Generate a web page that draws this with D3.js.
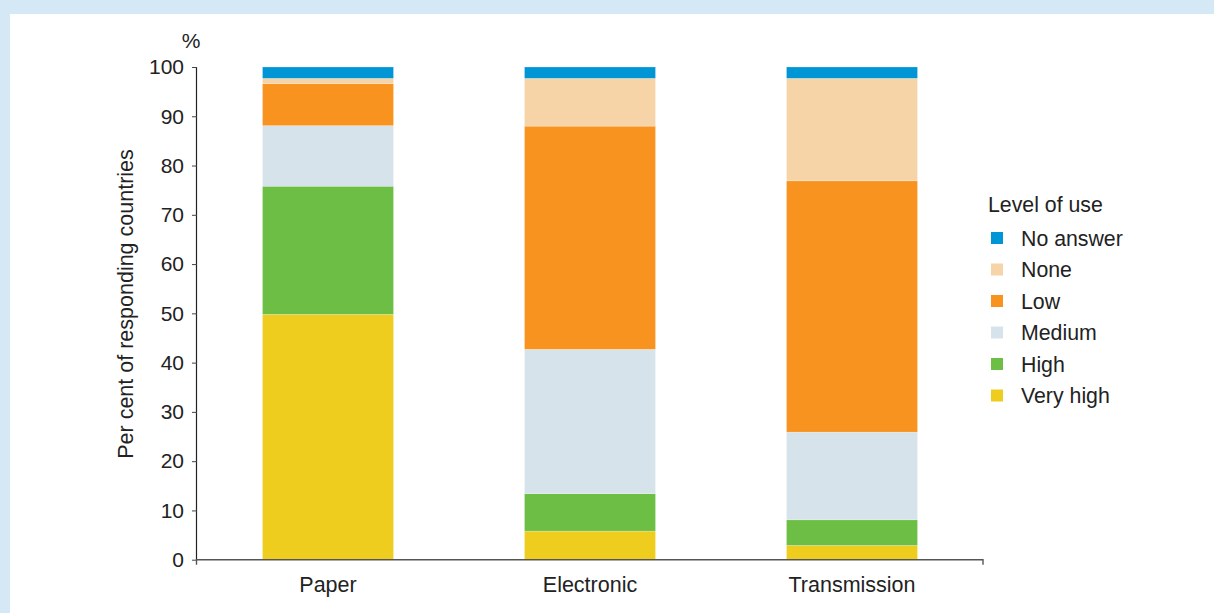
<!DOCTYPE html>
<html>
<head>
<meta charset="utf-8">
<script src="https://cdn.jsdelivr.net/npm/d3@7"></script>
<style>
html,body{margin:0;padding:0;background:#d5e8f6;}
svg{display:block;}
text{font-family:"Liberation Sans",Arial,sans-serif;fill:#222;}
</style>
</head>
<body>
<svg id="chart" width="1214" height="613"></svg>
<script>
const categories = ["Paper", "Electronic", "Transmission"];
const levels = ["Very high", "High", "Medium", "Low", "None", "No answer"];
const veryHigh = [49.8, 5.8, 2.9];
const high = [26.0, 7.6, 5.2];
const medium = [12.3, 29.3, 17.8];
const low = [8.5, 45.3, 51.0];
const none = [1.1, 9.7, 20.8];
const noAnswer = [2.3, 2.3, 2.3];
const yTicks = [0, 10, 20, 30, 40, 50, 60, 70, 80, 90, 100];
const legendOrder = ["No answer", "None", "Low", "Medium", "High", "Very high"];
const colors = {"No answer":"#0096d6","None":"#f7d4a8","Low":"#f7931e","Medium":"#d7e3ea","High":"#6dbe45","Very high":"#eecd1e"};

const seriesValues = {"Very high":veryHigh,"High":high,"Medium":medium,"Low":low,"None":none,"No answer":noAnswer};
const rows = categories.map((c,i)=>{const r={cat:c}; levels.forEach(l=>r[l]=seriesValues[l][i]); return r;});
const stacked = d3.stack().keys(levels)(rows);

const svg = d3.select("#chart");
svg.append("rect").attr("x",10).attr("y",14).attr("width",1204).attr("height",599).attr("fill","#fff");

const x0 = 197, x1 = 983, yBottom = 559.7, yTop = 67;
const x = d3.scaleBand().domain(categories).range([x0,x1]).paddingInner(0.5).paddingOuter(0.25);
const y = d3.scaleLinear().domain([0,100]).range([yBottom,yTop]);

const g = svg.append("g");
g.selectAll("g.layer").data(stacked).join("g").attr("class","layer")
  .attr("fill",d=>colors[d.key])
  .selectAll("rect").data(d=>d).join("rect")
  .attr("x",d=>x(d.data.cat))
  .attr("width",x.bandwidth())
  .attr("y",d=>y(d[1]))
  .attr("height",d=>y(d[0])-y(d[1]))
  .attr("stroke","#ffffff").attr("stroke-opacity",0.35).attr("stroke-width",0.6);

// Y axis
const yAxis = d3.axisLeft(y).tickValues(yTicks).tickSize(5).tickPadding(8).tickFormat(d3.format("d"));
const ya = svg.append("g").attr("transform",`translate(${x0},0)`).call(yAxis);
ya.select(".domain").attr("stroke","#222").attr("stroke-width",1.2).attr("d",`M-0.5,${yTop}V${yBottom}`);
ya.selectAll(".tick line").attr("stroke","#444");
ya.selectAll(".tick text").attr("font-size",21).attr("font-family","Liberation Sans, Arial, sans-serif").attr("fill","#222");

// X axis
const xAxis = d3.axisBottom(x).tickSize(0).tickPadding(17);
const xa = svg.append("g").attr("transform",`translate(0,${yBottom})`).call(xAxis);
xa.select(".domain").attr("stroke","#555").attr("stroke-width",1.4).attr("d",`M${x0-0.5},5V0H${x1}V5`);
xa.selectAll(".tick text").attr("font-size",21.5).attr("font-family","Liberation Sans, Arial, sans-serif").attr("fill","#222").attr("dy","0.71em");

// % label
svg.append("text").attr("x",191).attr("y",48).attr("text-anchor","middle").attr("font-size",21).text("%");

// Y title
svg.append("text").attr("transform","translate(133,304) rotate(-90)").attr("text-anchor","middle")
  .attr("font-size",21.5).text("Per cent of responding countries");

// Legend
const lg = svg.append("g");
lg.append("text").attr("x",988).attr("y",212).attr("font-size",21.3).text("Level of use");
const li = lg.selectAll("g.item").data(legendOrder).join("g").attr("class","item")
  .attr("transform",(d,i)=>`translate(991,${238 + i*31.5})`);
li.append("rect").attr("x",0).attr("y",-6).attr("width",12).attr("height",12).attr("fill",d=>colors[d]);
li.append("text").attr("x",30).attr("y",7.5).attr("font-size",21.3).text(d=>d);
</script>
</body>
</html>
